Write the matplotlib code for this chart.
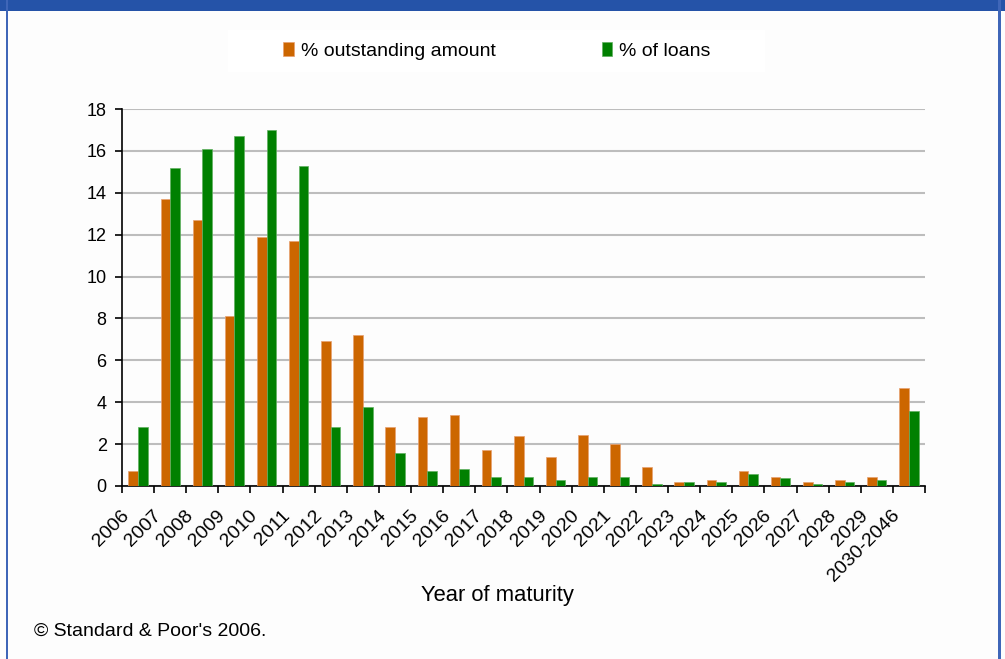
import numpy as np
import matplotlib.pyplot as plt
from matplotlib.patches import Rectangle
import matplotlib.transforms as mtransforms

years = ['2006', '2007', '2008', '2009', '2010', '2011', '2012', '2013', '2014',
         '2015', '2016', '2017', '2018', '2019', '2020', '2021', '2022', '2023',
         '2024', '2025', '2026', '2027', '2028', '2029', '2030-2046']
pct_amount = [0.7, 13.7, 12.7, 8.1, 11.9, 11.7, 6.9, 7.2, 2.8, 3.3, 3.4, 1.7, 2.4,
              1.4, 2.45, 2.0, 0.9, 0.2, 0.27, 0.7, 0.45, 0.2, 0.27, 0.45, 4.7]
pct_loans = [2.8, 15.2, 16.1, 16.7, 17.0, 15.3, 2.8, 3.75, 1.57, 0.7, 0.8, 0.45, 0.45,
             0.27, 0.45, 0.45, 0.1, 0.2, 0.2, 0.55, 0.37, 0.1, 0.2, 0.27, 3.6]

plt.rcParams['font.family'] = ['Liberation Sans', 'DejaVu Sans']

fig = plt.figure(figsize=(10.05, 6.59), dpi=100)
fig.patch.set_facecolor('#fdfdfd')
W, H = 1005, 659

# frame: blue band on top and thin side lines
fig.patches.append(Rectangle((0, 1 - 11 / H), 1, 11 / H, transform=fig.transFigure,
                             facecolor='#2553a8', edgecolor='none'))
fig.patches.append(Rectangle((6 / W, 0), 2 / W, 1, transform=fig.transFigure,
                             facecolor='#3f66b8', edgecolor='none'))
fig.patches.append(Rectangle((998 / W, 0), 2.5 / W, 1, transform=fig.transFigure,
                             facecolor='#3f66b8', edgecolor='none'))
# white legend box
fig.patches.append(Rectangle((228 / W, 1 - 72 / H), 537 / W, 42 / H, transform=fig.transFigure,
                             facecolor='white', edgecolor='none'))

ax = fig.add_axes([122 / W, 1 - 486 / H, 803 / W, 377 / H])
ax.set_facecolor('none')

x = np.arange(len(years))
bw = 0.3
b1 = ax.bar(x - bw / 2, pct_amount, bw, color='#cc6600', edgecolor='#e8a070', linewidth=0.5,
            label='% outstanding amount', zorder=3)
b2 = ax.bar(x + bw / 2, pct_loans, bw, color='#008000', edgecolor='#60b060', linewidth=0.5,
            label='% of loans', zorder=3)

ax.set_xlim(-0.5, len(years) - 0.5)
ax.set_ylim(0, 18)
ax.set_yticks(range(0, 19, 2))
ax.yaxis.grid(True, color='#bdbdbd', linewidth=1.5, zorder=0)
ax.set_axisbelow(True)

for s in ['top', 'right']:
    ax.spines[s].set_visible(False)
for s in ['left', 'bottom']:
    ax.spines[s].set_color('black')
    ax.spines[s].set_linewidth(1.2)

ax.set_xticks(x)
ax.set_xticks(np.arange(-0.5, len(years), 1), minor=True)
ax.tick_params(axis='x', which='major', length=0, pad=15)
ax.tick_params(axis='x', which='minor', length=5, width=1.2, direction='out')
ax.tick_params(axis='y', length=5, width=1.2, labelsize=13, pad=6)
ax.set_xticklabels(years, rotation=45, ha='right', va='top', fontsize=14)
offset = mtransforms.ScaledTranslation(-4 / 72, 0, fig.dpi_scale_trans)
for lbl in ax.get_xticklabels():
    lbl.set_transform(lbl.get_transform() + offset)

fig.text(497 / W, 1 - 595 / H, 'Year of maturity', ha='center', va='center', fontsize=15.8)
fig.text(34 / W, 1 - 631 / H, "\u00a9 Standard & Poor's 2006.", ha='left', va='center', fontsize=14)

fig.legend(handles=[b1, b2], loc='center', bbox_to_anchor=(497 / W, 1 - 51 / H), ncol=2,
           frameon=False, fontsize=14, handlelength=0.55, handleheight=0.7,
           handletextpad=0.35, columnspacing=5.45)

fig.savefig('out.png', dpi=100, facecolor=fig.get_facecolor())
